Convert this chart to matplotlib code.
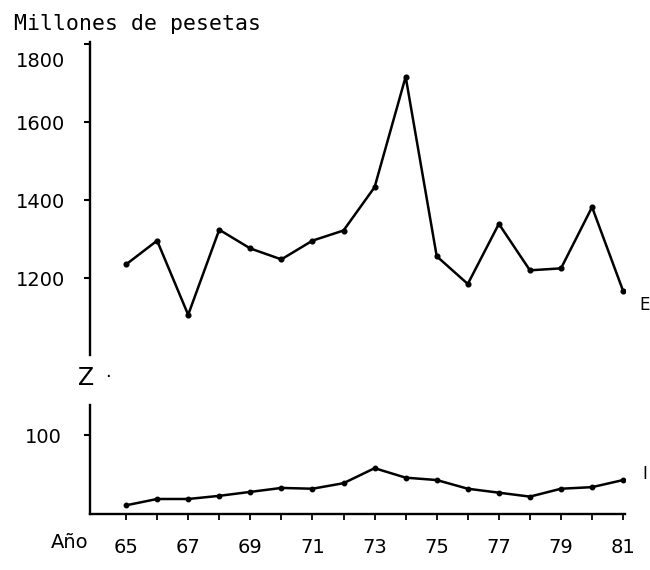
import matplotlib
matplotlib.use("Agg")
import matplotlib.pyplot as plt
import matplotlib.transforms as mtransforms

years = list(range(65, 82))
serie_E = [1235, 1296, 1106, 1324, 1276, 1248, 1296, 1322, 1433, 1716,
           1256, 1185, 1339, 1220, 1225, 1382, 1167]
serie_I = [11, 19, 19, 23, 28, 33, 32, 39, 58, 46, 43, 32, 27, 22, 32, 34, 43]
top_ticks = [1200, 1400, 1600, 1800]
bottom_ticks = [100]
xtick_years = [65, 67, 69, 71, 73, 75, 77, 79, 81]

W, H = 650, 570
fig = plt.figure(figsize=(6.5, 5.7), dpi=100)
fig.patch.set_facecolor("white")

def frac(x0, y0, x1, y1):
    return [x0 / W, 1 - y1 / H, (x1 - x0) / W, (y1 - y0) / H]

left_px, right_px = 90, 625
ax_top = fig.add_axes(frac(left_px, 42, right_px, 355))
ax_bot = fig.add_axes(frac(left_px, 405, right_px, 514))

xlim = (63.84, 81.06)
lw = 1.7
for ax in (ax_top, ax_bot):
    ax.set_xlim(*xlim)
    for s in ("top", "right"):
        ax.spines[s].set_visible(False)
    ax.spines["left"].set_linewidth(lw)
    ax.set_facecolor("none")

ax_top.spines["bottom"].set_visible(False)
ax_top.set_ylim(1003, 1805)
ax_top.plot(years, serie_E, color="black", lw=1.8, marker="o", markersize=3.4)
ax_top.set_yticks(top_ticks)
ax_top.set_yticklabels([str(t) for t in top_ticks])
ax_top.set_xticks([])
ax_top.tick_params(axis="y", direction="out", length=4, width=1.5,
                   labelsize=14, pad=14)
lab = ax_top.get_yticklabels()[-1]
lab.set_transform(lab.get_transform() +
                  mtransforms.ScaledTranslation(0, -16 / 100, fig.dpi_scale_trans))

ax_bot.set_ylim(0, 138)
ax_bot.spines["bottom"].set_linewidth(lw)
ax_bot.plot(years, serie_I, color="black", lw=1.8, marker="o", markersize=3.2)
ax_bot.set_yticks(bottom_ticks)
ax_bot.set_yticklabels([str(t) for t in bottom_ticks])
ax_bot.tick_params(axis="y", direction="out", length=4, width=1.5,
                   labelsize=14, pad=16)
ax_bot.set_xticks(years, minor=True)
ax_bot.set_xticks(xtick_years)
ax_bot.set_xticklabels([str(y) for y in xtick_years])
ax_bot.tick_params(axis="x", which="both", direction="out", length=4,
                   width=1.3, labelsize=14, pad=13)

ax_top.annotate("E", (years[-1], serie_E[-1]), xytext=(12, -10),
                textcoords="offset points", fontsize=12, va="center", ha="left")
ax_bot.annotate("I", (years[-1], serie_I[-1]), xytext=(14, 4),
                textcoords="offset points", fontsize=12, va="center", ha="left")

fig.text(14 / W, 1 - 30 / H, "Millones de pesetas", family="DejaVu Sans Mono",
         fontsize=15.5, ha="left", va="baseline")
fig.text(70 / W, 1 - 543 / H, "Año", fontsize=14, ha="center", va="center")
fig.text(86 / W, 1 - 378 / H, "Z", fontsize=17, ha="center", va="center")
fig.text(108 / W, 1 - 377 / H, "·", fontsize=13, ha="center", va="center")

fig.savefig("out.png", dpi=100, facecolor="white")
